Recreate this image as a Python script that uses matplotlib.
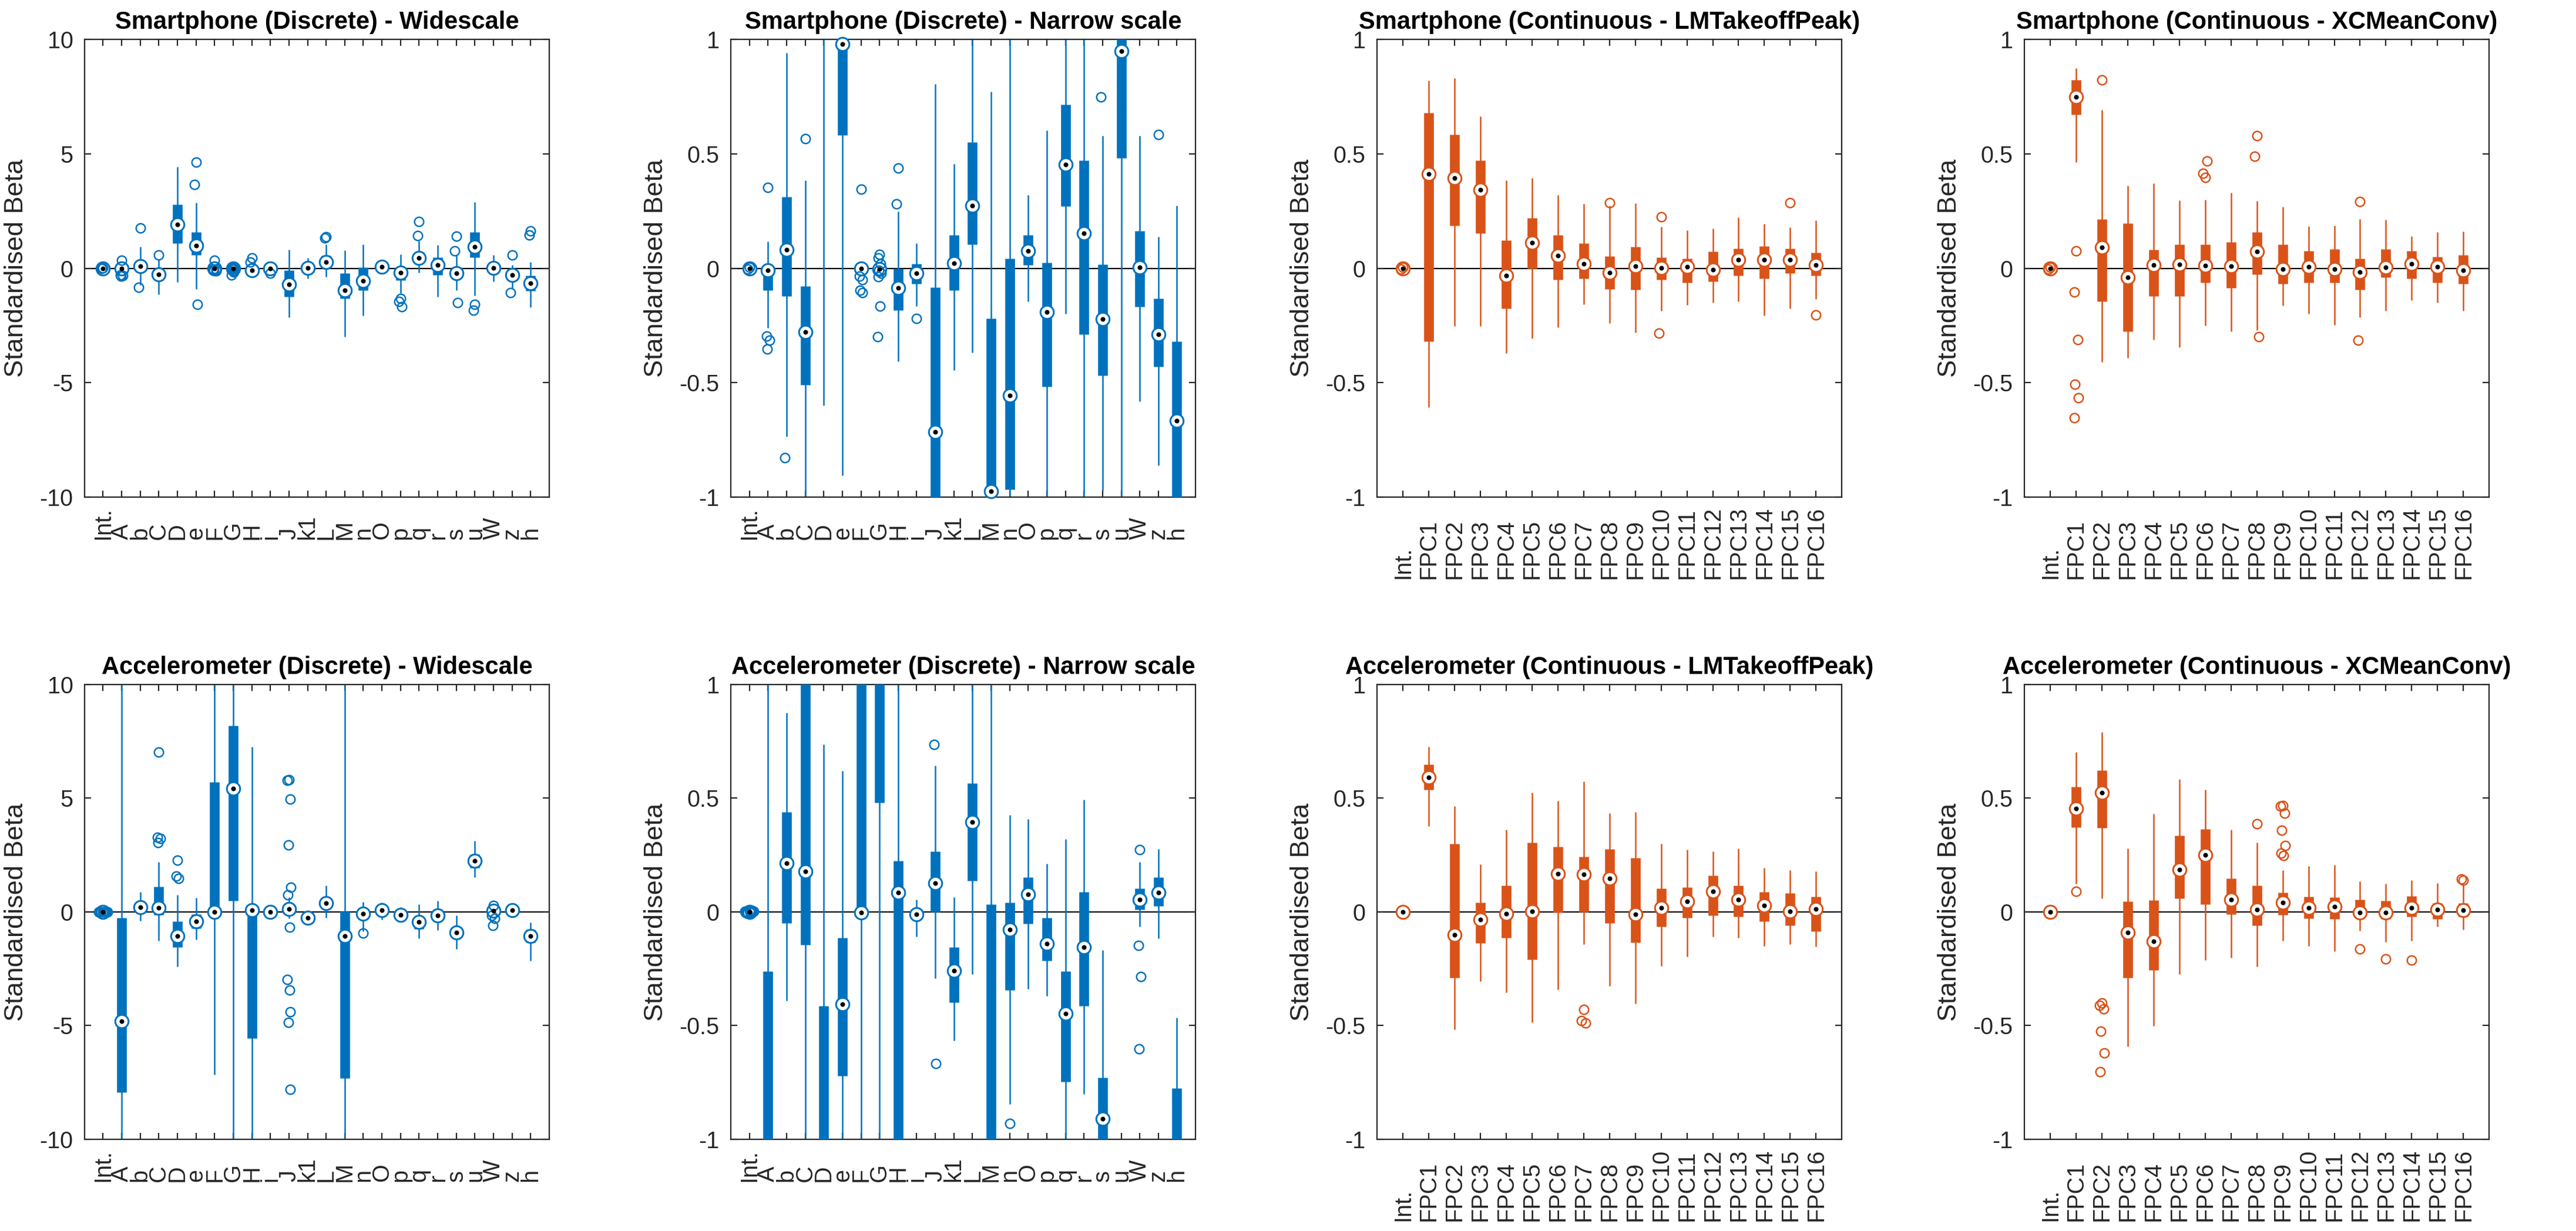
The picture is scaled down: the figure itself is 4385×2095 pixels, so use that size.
import numpy as np
import matplotlib
matplotlib.use('Agg')
import matplotlib.pyplot as plt
from matplotlib.ticker import FuncFormatter

plt.rcParams['font.family'] = ['Liberation Sans', 'DejaVu Sans']

BLUE = '#0072BD'
ORANGE = '#D95319'
AXCOL = '#262626'

disc_labels = ['Int.', 'A', 'b', 'C', 'D', 'e', 'F', 'G', 'H', 'i', 'J', 'k1',
               'L', 'M', 'n', 'O', 'p', 'q', 'r', 's', 'u', 'W', 'z', 'h']
fpc_labels = ['Int.', 'FPC1', 'FPC2', 'FPC3', 'FPC4', 'FPC5', 'FPC6', 'FPC7', 'FPC8',
              'FPC9', 'FPC10', 'FPC11', 'FPC12', 'FPC13', 'FPC14', 'FPC15', 'FPC16']

# ---- Smartphone, discrete ----
sp_disc_med = [0.0, -0.008, 0.08, -0.278, 1.92, 0.979, 0.0, -0.004, -0.087, -0.021, -0.715, 0.021,
               0.274, -0.975, -0.555, 0.076, -0.192, 0.452, 0.153, -0.223, 0.948, 0.005, -0.288, -0.666]
sp_disc_q1 = [0.0, -0.097, -0.123, -0.509, 1.08, 0.582, -0.008, -0.01, -0.183, -0.067, -1.25, -0.097,
              0.104, -1.33, -0.966, 0.013, -0.518, 0.271, -0.289, -0.468, 0.482, -0.168, -0.431, -1.0]
sp_disc_q3 = [0.0, 0.0, 0.312, -0.079, 2.78, 1.58, 0.01, 0.01, 0.0, 0.018, -0.084, 0.146,
              0.552, -0.219, 0.043, 0.146, 0.025, 0.715, 0.47, 0.016, 1.58, 0.164, -0.131, -0.32]
sp_disc_lo = [0.0, -0.26, -0.735, -1.13, -0.6, -0.905, -0.025, -0.02, -0.408, -0.166, -2.15, -0.445,
              -0.368, -3.0, -2.07, -0.145, -1.1, -0.2, -1.25, -0.973, -1.2, -0.582, -0.861, -1.71]
sp_disc_hi = [0.0, 0.117, 0.94, 0.383, 4.44, 2.86, 0.03, 0.02, 0.248, 0.108, 0.805, 0.457,
              1.05, 0.771, 1.05, 0.32, 0.603, 1.2, 1.02, 0.58, 2.9, 0.58, 0.138, 0.273]
sp_disc_out = [[0.004, -0.003], [0.352, -0.297, -0.314, -0.352], [1.77, -0.827], [0.565], [],
               [4.63, 3.65, -1.58], [0.345, -0.035, -0.051, -0.097, -0.107],
               [0.06, 0.046, 0.02, -0.01, -0.023, -0.038, -0.165, -0.3], [0.439, 0.281], [-0.22],
               [], [], [1.38, 1.31], [], [], [], [-1.32, -1.45, -1.67], [2.04, 1.43], [],
               [1.41, 0.749, -1.51], [-1.58, -1.84], [], [0.583, -1.07], [1.63, 1.45]]

# ---- Accelerometer, discrete ----
acc_disc_med = [0.0, -4.8, 0.215, 0.177, -1.05, -0.406, -0.002, 5.42, 0.084, -0.01, 0.127, -0.258,
                0.394, -1.05, -0.079, 0.076, -0.141, -0.448, -0.155, -0.909, 2.24, 0.055, 0.084, -1.05]
acc_disc_q1 = [0.0, -7.93, -0.05, -0.145, -1.55, -0.721, 0.02, 0.48, -5.56, -0.03, 0.0, -0.398,
               0.136, -7.31, -0.344, -0.052, -0.215, -0.747, -0.413, -1.12, 1.93, 0.009, 0.026, -1.34]
acc_disc_q3 = [0.0, -0.26, 0.439, 1.1, -0.415, -0.115, 5.71, 8.18, 0.224, 0.01, 0.267, -0.155,
               0.566, 0.034, 0.041, 0.153, -0.026, -0.26, 0.088, -0.728, 2.53, 0.103, 0.153, -0.775]
acc_disc_lo = [0.0, -11.0, -0.391, -1.26, -2.41, -1.22, -7.16, -11.0, -11.0, -0.108, -0.293, -0.566,
               -0.274, -11.0, -0.845, -0.339, -0.37, -1.17, -0.8, -1.64, 1.53, -0.065, -0.117, -2.15]
acc_disc_hi = [0.0, 11.0, 0.876, 2.19, 0.735, 0.62, 11.0, 11.0, 7.26, 0.055, 0.644, 0.065,
               1.15, 11.0, 0.427, 0.408, 0.212, 0.32, 0.494, -0.167, 3.13, 0.22, 0.277, -0.466]
acc_disc_out = [[0.004, -0.003, 0.006, -0.005, 0.002, -0.006, 0.0, 0.003, -0.002], [], [],
                [7.02, 3.27, 3.22, 3.05], [2.27, 1.57, 1.46], [], [], [], [], [],
                [5.82, 5.78, 4.97, 2.94, 1.07, 0.737, -0.666, -2.98, -3.44, -4.39, -4.87, -7.8],
                [], [], [], [-0.931], [], [], [], [], [], [], [0.274, -0.148, -0.284, -0.602], [], []]

# ---- Smartphone, continuous LMTakeoffPeak ----
sp_lm_med = [0.0, 0.412, 0.393, 0.342, -0.031, 0.112, 0.056, 0.018, -0.02, 0.01, 0.002, 0.007,
             -0.007, 0.038, 0.036, 0.038, 0.015]
sp_lm_q1 = [0.0, -0.319, 0.186, 0.153, -0.177, 0.0, -0.049, -0.046, -0.092, -0.095, -0.049, -0.062,
            -0.058, -0.031, -0.046, -0.021, -0.031]
sp_lm_q3 = [0.0, 0.68, 0.583, 0.47, 0.122, 0.22, 0.146, 0.108, 0.053, 0.095, 0.048, 0.043,
            0.074, 0.085, 0.097, 0.085, 0.069]
sp_lm_lo = [0.0, -0.606, -0.253, -0.253, -0.371, -0.307, -0.258, -0.158, -0.24, -0.281, -0.187, -0.161,
            -0.15, -0.145, -0.207, -0.177, -0.136]
sp_lm_hi = [0.0, 0.82, 0.83, 0.664, 0.385, 0.393, 0.32, 0.281, 0.273, 0.284, 0.182, 0.166,
            0.174, 0.222, 0.194, 0.179, 0.209]
sp_lm_out = [[0.004, -0.003], [], [], [], [], [], [], [], [0.286], [], [0.225, -0.284], [], [], [], [],
             [0.286], [-0.204]]

# ---- Smartphone, continuous XCMeanConv ----
sp_xc_med = [0.0, 0.748, 0.09, -0.039, 0.015, 0.016, 0.012, 0.01, 0.074, -0.003, 0.007, -0.003,
             -0.016, 0.003, 0.018, 0.007, -0.01]
sp_xc_q1 = [0.0, 0.672, -0.146, -0.276, -0.123, -0.122, -0.064, -0.085, -0.026, -0.067, -0.062, -0.062,
            -0.095, -0.039, -0.044, -0.064, -0.067]
sp_xc_q3 = [0.0, 0.823, 0.215, 0.197, 0.081, 0.104, 0.104, 0.113, 0.158, 0.104, 0.077, 0.084,
            0.043, 0.084, 0.076, 0.051, 0.058]
sp_xc_lo = [0.0, 0.463, -0.409, -0.391, -0.312, -0.345, -0.25, -0.276, -0.27, -0.164, -0.199, -0.248,
            -0.214, -0.186, -0.141, -0.15, -0.187]
sp_xc_hi = [0.0, 0.874, 0.693, 0.36, 0.371, 0.297, 0.299, 0.33, 0.294, 0.268, 0.184, 0.186,
            0.215, 0.212, 0.141, 0.158, 0.161]
sp_xc_out = [[0.004, -0.003], [0.077, -0.105, -0.311, -0.506, -0.565, -0.654], [0.823], [], [], [],
             [0.396, 0.414, 0.468], [], [0.58, 0.49, -0.299], [], [], [], [0.291, -0.314], [], [], [], []]

# ---- Accelerometer, continuous LMTakeoffPeak ----
acc_lm_med = [0.0, 0.592, -0.1, -0.034, -0.009, 0.003, 0.167, 0.164, 0.146, -0.01, 0.019, 0.046,
              0.091, 0.055, 0.028, 0.002, 0.012]
acc_lm_q1 = [0.0, 0.537, -0.289, -0.138, -0.114, -0.21, -0.003, 0.0, -0.05, -0.134, -0.065, -0.026,
             -0.015, -0.021, -0.041, -0.06, -0.086]
acc_lm_q3 = [0.0, 0.647, 0.3, 0.04, 0.117, 0.305, 0.287, 0.243, 0.277, 0.238, 0.102, 0.107,
             0.16, 0.117, 0.088, 0.083, 0.067]
acc_lm_lo = [0.0, 0.377, -0.516, -0.305, -0.353, -0.485, -0.341, -0.143, -0.325, -0.403, -0.238, -0.196,
             -0.108, -0.114, -0.151, -0.143, -0.153]
acc_lm_hi = [0.0, 0.725, 0.465, 0.21, 0.361, 0.525, 0.489, 0.573, 0.434, 0.439, 0.3, 0.274,
             0.267, 0.279, 0.194, 0.184, 0.179]
acc_lm_out = [[], [], [], [], [], [], [], [-0.429, -0.478, -0.489], [], [], [], [], [], [], [], [], []]

# ---- Accelerometer, continuous XCMeanConv ----
acc_xc_med = [0.0, 0.454, 0.523, -0.091, -0.129, 0.186, 0.251, 0.055, 0.009, 0.04, 0.017, 0.024,
              -0.002, -0.002, 0.019, 0.009, 0.007]
acc_xc_q1 = [0.0, 0.372, 0.368, -0.289, -0.256, 0.059, 0.033, -0.01, -0.06, -0.014, -0.028, -0.031,
             -0.022, -0.031, -0.022, -0.031, -0.022]
acc_xc_q3 = [0.0, 0.551, 0.623, 0.045, 0.052, 0.336, 0.365, 0.148, 0.117, 0.086, 0.067, 0.064,
             0.055, 0.05, 0.069, 0.038, 0.038]
acc_xc_lo = [0.0, 0.124, 0.059, -0.592, -0.501, -0.275, -0.212, -0.203, -0.241, -0.126, -0.151, -0.174,
             -0.083, -0.131, -0.126, -0.065, -0.077]
acc_xc_hi = [0.0, 0.702, 0.79, 0.279, 0.432, 0.583, 0.537, 0.361, 0.305, 0.184, 0.2, 0.207,
             0.133, 0.124, 0.138, 0.127, 0.124]
acc_xc_out = [[], [0.09], [-0.401, -0.41, -0.427, -0.525, -0.621, -0.704], [], [], [], [], [],
              [0.386], [0.468, 0.465, 0.434, 0.36, 0.291, 0.258, 0.248], [], [], [-0.164], [-0.208],
              [-0.212], [], [0.138, 0.145]]

# small fixed sideways spread for outliers (like boxplot jitter)
JITTER = [0.0, -0.08, 0.07, -0.04, 0.09, -0.06, 0.04, -0.09, 0.02, 0.06, -0.03, 0.08]


def draw_panel(ax, labels, med, q1, q3, lo, hi, out, color, ylim, title, label_pad):
    x = np.arange(1, len(labels) + 1)
    ax.axhline(0, color='k', lw=1.6, zorder=1)
    ax.vlines(x, lo, hi, color=color, lw=1.8, zorder=2)
    ax.vlines(x, q1, q3, color=color, lw=12, zorder=3, capstyle='butt')

    med = np.array(med)
    inside = (med >= ylim[0]) & (med <= ylim[1])
    ax.plot(x[inside], med[inside], 'o', mfc='white', mec=color, ms=16.2, mew=2.2, zorder=4, clip_on=False)

    ox, oy = [], []
    for i, vals in enumerate(out):
        # a tight pile of identical outliers spreads a bit wider
        spread = 2.6 if len(vals) > 5 and max(vals) - min(vals) < 0.05 else 1.0
        for k, v in enumerate(vals):
            if ylim[0] <= v <= ylim[1]:
                ox.append(x[i] + spread * JITTER[k % len(JITTER)])
                oy.append(v)
    ax.plot(ox, oy, 'o', mfc='none', mec=color, ms=11.2, mew=1.8, zorder=5, clip_on=False)

    ax.plot(x[inside], med[inside], 'o', color='k', ms=5.8, mew=0, zorder=6, clip_on=False)

    ax.set_xlim(0, len(labels) + 1)
    ax.set_ylim(*ylim)
    if ylim[1] > 5:
        ax.set_yticks([-10, -5, 0, 5, 10])
    else:
        ax.set_yticks([-1, -0.5, 0, 0.5, 1])
    ax.yaxis.set_major_formatter(FuncFormatter(lambda v, p: '%g' % v))
    ax.set_xticks(x)
    ax.set_xticklabels(labels, rotation=90, va='bottom', ha='center')

    ax.tick_params(direction='in', top=True, right=True, length=8, width=1.6,
                   colors=AXCOL, labelsize=28.5)
    ax.tick_params(axis='x', pad=label_pad)
    ax.tick_params(axis='y', pad=14)
    for sp in ax.spines.values():
        sp.set_color(AXCOL)
        sp.set_linewidth(1.6)
    ax.set_ylabel('Standardised Beta', fontsize=32.5, color=AXCOL, labelpad=14)
    ax.set_title(title, fontsize=30, fontweight='bold', pad=13)


fig = plt.figure(figsize=(43.85, 20.95), dpi=100)

lefts = [0.0328, 0.2837, 0.5346, 0.7859]
w = 0.1804
top_b, top_h = 0.5962, 0.3718
bot_b, bot_h = 0.0745, 0.3695

panels = [
    (0, top_b, top_h, disc_labels, sp_disc_med, sp_disc_q1, sp_disc_q3, sp_disc_lo, sp_disc_hi, sp_disc_out,
     BLUE, (-10, 10), 'Smartphone (Discrete) - Widescale', 52),
    (1, top_b, top_h, disc_labels, sp_disc_med, sp_disc_q1, sp_disc_q3, sp_disc_lo, sp_disc_hi, sp_disc_out,
     BLUE, (-1, 1), 'Smartphone (Discrete) - Narrow scale', 52),
    (2, top_b, top_h, fpc_labels, sp_lm_med, sp_lm_q1, sp_lm_q3, sp_lm_lo, sp_lm_hi, sp_lm_out,
     ORANGE, (-1, 1), 'Smartphone (Continuous - LMTakeoffPeak)', 100),
    (3, top_b, top_h, fpc_labels, sp_xc_med, sp_xc_q1, sp_xc_q3, sp_xc_lo, sp_xc_hi, sp_xc_out,
     ORANGE, (-1, 1), 'Smartphone (Continuous - XCMeanConv)', 100),
    (0, bot_b, bot_h, disc_labels, acc_disc_med, acc_disc_q1, acc_disc_q3, acc_disc_lo, acc_disc_hi, acc_disc_out,
     BLUE, (-10, 10), 'Accelerometer (Discrete) - Widescale', 52),
    (1, bot_b, bot_h, disc_labels, acc_disc_med, acc_disc_q1, acc_disc_q3, acc_disc_lo, acc_disc_hi, acc_disc_out,
     BLUE, (-1, 1), 'Accelerometer (Discrete) - Narrow scale', 52),
    (2, bot_b, bot_h, fpc_labels, acc_lm_med, acc_lm_q1, acc_lm_q3, acc_lm_lo, acc_lm_hi, acc_lm_out,
     ORANGE, (-1, 1), 'Accelerometer (Continuous - LMTakeoffPeak)', 100),
    (3, bot_b, bot_h, fpc_labels, acc_xc_med, acc_xc_q1, acc_xc_q3, acc_xc_lo, acc_xc_hi, acc_xc_out,
     ORANGE, (-1, 1), 'Accelerometer (Continuous - XCMeanConv)', 100),
]

for col, b, h, labels, med, q1, q3, lo, hi, out, color, ylim, title, pad in panels:
    ax = fig.add_axes([lefts[col], b, w, h])
    draw_panel(ax, labels, med, q1, q3, lo, hi, out, color, ylim, title, pad)

fig.savefig('out.png', dpi=100, facecolor='white')
